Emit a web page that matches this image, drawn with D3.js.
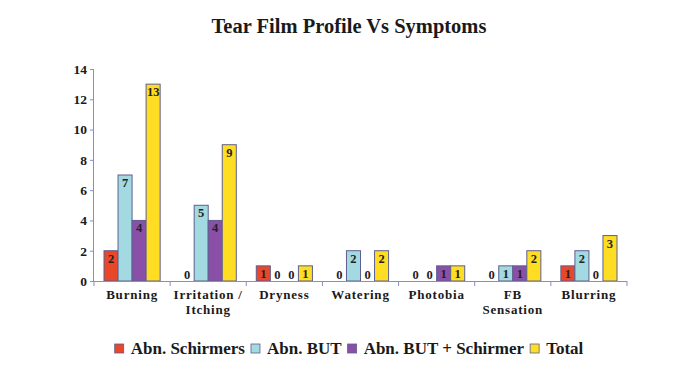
<!DOCTYPE html>
<html><head><meta charset="utf-8">
<script src="https://cdn.jsdelivr.net/npm/d3@7"></script>
<style>body{margin:0;background:#fff}svg{display:block}text{font-family:"Liberation Serif","Times New Roman",serif;font-weight:bold}</style>
</head><body><svg id="c" width="698" height="369"></svg>
<script>
const categories = [["Burning"],["Irritation /","Itching"],["Dryness"],["Watering"],["Photobia"],["FB","Sensation"],["Blurring"]];
const seriesNames = ["Abn. Schirmers","Abn. BUT","Abn. BUT + Schirmer","Total"];
const abnSchirmers = [2,0,1,0,0,0,1];
const abnBUT = [7,5,0,2,0,1,2];
const abnBUTSchirmer = [4,4,0,0,1,1,0];
const total = [13,9,1,2,1,2,3];
const yTicks = [0,2,4,6,8,10,12,14];
const colors = ["#E8472A","#A3D9E0","#8A50A8","#FFDD22"];
const series = [abnSchirmers, abnBUT, abnBUTSchirmer, total];

const svg = d3.select("#c");
const m = {l:94, r:627, t:69, b:281};
const x0 = d3.scaleBand().domain(d3.range(categories.length)).range([m.l,m.r]).paddingInner(0).paddingOuter(0);
const x1 = d3.scaleBand().domain(d3.range(series.length)).range([10,x0.bandwidth()-10]).padding(0);
const y = d3.scaleLinear().domain([0,14]).range([m.b,m.t]);
const axisColor = "#8C8CC0";

svg.append("text").attr("x",349).attr("y",33).attr("text-anchor","middle").attr("font-size",20.5).attr("fill","#1a1a1a").text("Tear Film Profile Vs Symptoms");

// bars
const g = svg.append("g");
categories.forEach((c,i)=>{
  series.forEach((s,j)=>{
    const v = s[i];
    const bx = x0(i)+x1(j), bw = x1.bandwidth();
    if (v>0){
      g.append("rect").attr("x",bx).attr("y",y(v)).attr("width",bw).attr("height",y(0)-y(v))
        .attr("fill",colors[j]).attr("stroke","#5E5E90").attr("stroke-width",1);
      g.append("text").attr("x",bx+bw/2).attr("y",y(v)+12).attr("text-anchor","middle").attr("font-size",12.5).attr("fill","#222").text(v);
    } else {
      g.append("text").attr("x",bx+bw/2).attr("y",y(0)-2).attr("text-anchor","middle").attr("font-size",12.5).attr("fill","#222").text(v);
    }
  });
});

// y axis
const ya = svg.append("g").attr("transform",`translate(${m.l},0)`).call(d3.axisLeft(y).tickValues(yTicks).tickSize(4).tickPadding(3));
ya.attr("font-family",null);
ya.select(".domain").attr("stroke",axisColor).attr("d",`M-0.5,${m.t}V${m.b}`);
ya.selectAll(".tick line").attr("stroke",axisColor);
ya.selectAll(".tick text").attr("font-size",13.5).attr("fill","#1a1a1a");

// x axis
const xa = svg.append("g").attr("transform",`translate(0,${m.b})`);
xa.append("line").attr("x1",m.l).attr("x2",m.r).attr("y1",0.5).attr("y2",0.5).attr("stroke",axisColor);
d3.range(categories.length+1).forEach(i=>{
  const tx = i<categories.length ? x0(i) : m.r;
  xa.append("line").attr("x1",tx).attr("x2",tx).attr("y1",0).attr("y2",5).attr("stroke",axisColor);
});
categories.forEach((c,i)=>{
  const t = xa.append("text").attr("x",x0(i)+x0.bandwidth()/2).attr("y",18).attr("text-anchor","middle").attr("font-size",13).attr("letter-spacing","0.8px").attr("fill","#1a1a1a");
  c.forEach((line,k)=>t.append("tspan").attr("x",x0(i)+x0.bandwidth()/2).attr("dy",k?15:0).text(line));
});

// legend
const lg = svg.append("g");
let lx = 0;
seriesNames.forEach((n,j)=>{
  const it = lg.append("g").attr("transform",`translate(${lx},0)`);
  it.append("rect").attr("x",0).attr("y",-10).attr("width",9).attr("height",9).attr("fill",colors[j]).attr("stroke","#5E5E90").attr("stroke-width",0.8);
  const t = it.append("text").attr("x",16).attr("y",0).attr("font-size",17).attr("fill","#1a1a1a").text(n);
  lx += 16 + t.node().getComputedTextLength() + 6;
});
const lw = lx-6;
lg.attr("transform",`translate(${349 - lw/2},354)`);
</script></body></html>
